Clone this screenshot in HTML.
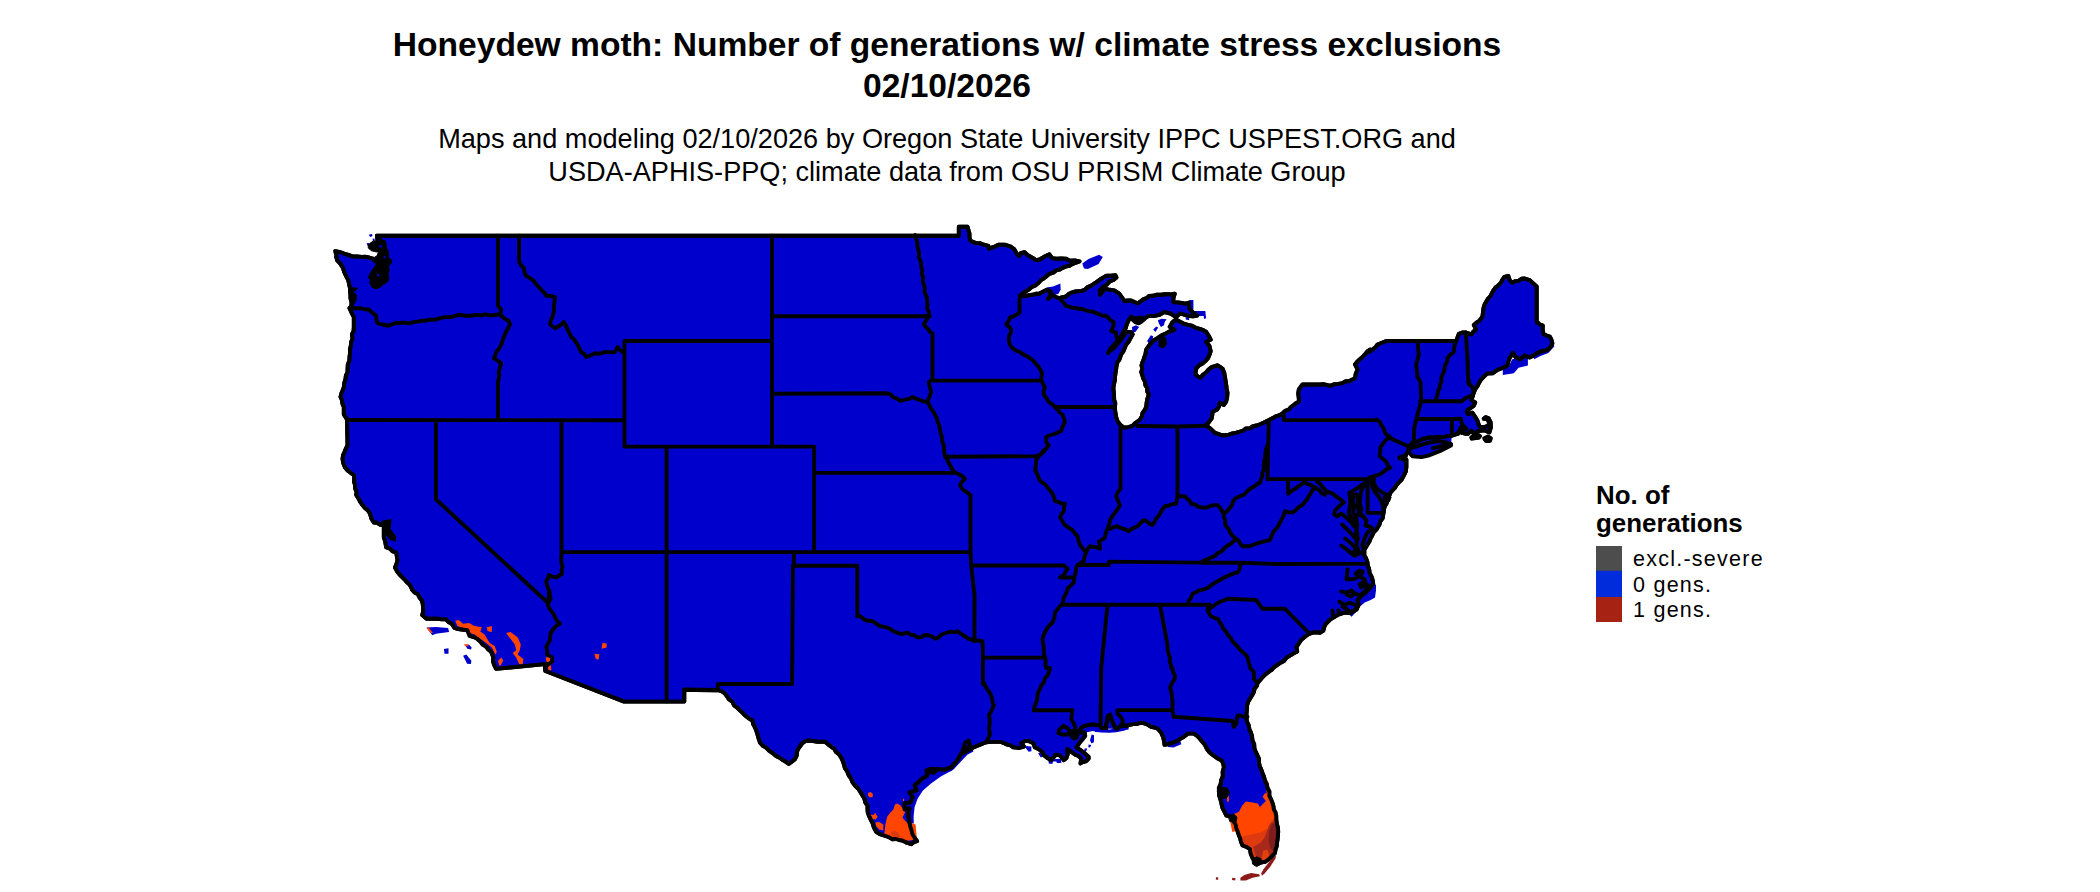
<!DOCTYPE html>
<html><head><meta charset="utf-8"><title>Honeydew moth</title>
<style>
html,body{margin:0;padding:0;background:#fff;}
body{width:2100px;height:892px;position:relative;overflow:hidden;font-family:"Liberation Sans",sans-serif;color:#000;}
.t{position:absolute;white-space:nowrap;text-align:center;}
#ti{left:347px;width:1200px;top:25.3px;font-weight:bold;font-size:33.6px;line-height:40.5px;}
#su{left:347px;width:1200px;top:122px;font-size:27.14px;line-height:33px;}
#lt{left:1596px;top:482px;font-weight:bold;font-size:25.9px;line-height:27.5px;text-align:left;}
.ll{left:1633px;font-size:21.5px;letter-spacing:1.25px;text-align:left;line-height:24px;}
</style></head><body>
<svg width="2100" height="892" viewBox="0 0 2100 892" style="position:absolute;left:0;top:0">
<g stroke-linejoin="round" stroke-linecap="round">
<path fill="#0000cd" stroke="none" d="M1082.3 263.5 L1088.5 259.0 L1099.1 254.7 L1102.8 257.0 L1098.6 264.0 L1087.9 269.1 L1084.0 268.5Z M1047.6 293.7 L1049.2 288.7 L1054.8 285.9 L1060.4 283.4 L1060.7 289.8 L1058.2 293.9 L1053.2 294.8Z M1132.0 326.9 L1136.0 325.2 L1139.1 326.9 L1135.4 332.0 L1132.3 332.6Z M1157.9 320.2 L1161.6 318.8 L1166.6 319.2 L1164.6 322.2 L1164.0 325.2 L1160.9 326.9 L1158.9 323.5Z M1153.2 329.6 L1156.2 326.6 L1158.2 327.6 L1155.5 332.0Z M1147.1 341.0 L1150.8 335.3 L1153.2 336.3 L1152.5 340.4 L1148.8 343.4Z M1189.2 300.0 L1193.4 300.0 L1193.4 309.4 L1189.2 308.1Z M1194.6 311.1 L1205.3 311.1 L1206.1 318.2 L1204.0 319.0 L1203.7 316.0 L1194.6 316.0Z M1185.5 317.2 L1189.2 317.6 L1189.2 320.2 L1185.8 319.6Z M1026.1 294.9 L1038.7 291.7 L1047.6 287.3 L1053.0 286.4 L1059.3 284.1 L1060.2 290.0 L1056.6 294.4 L1051.2 291.7 L1045.8 290.9 L1038.7 294.4 L1029.7 296.2Z M1512.2 359.2 L1527.9 356.8 L1527.9 365.5 L1518.5 367.8 L1513.8 373.3 L1502.8 374.9 L1502.8 368.6 L1509.1 365.5Z M1532.6 355.3 L1553.0 341.9 L1554.3 346.6 L1548.3 352.9 L1540.5 356.1 L1534.2 359.2Z M1095.0 726.9 L1109.6 729.4 L1128.6 726.0 L1128.6 729.4 L1109.6 732.7 L1095.0 732.0Z M1166.7 744.3 L1180.2 740.4 L1181.3 744.3 L1173.5 747.6 L1167.9 747.1Z M1105.7 728.6 L1107.1 715.7 L1110.7 713.7 L1113.8 722.4 L1116.1 728.9Z M949.3 769.3 L958.3 758.7 L965.0 752.0 L972.9 749.4 L973.4 751.4 L967.3 754.8 L960.5 762.0 L953.8 769.3 L950.4 771.8Z M369.4 234.4 L371.7 233.9 L372.6 235.6 L371.0 236.9 L369.2 236.1Z M366.7 243.3 L368.9 242.9 L369.2 245.2 L367.1 245.4Z M372.6 238.8 L374.5 238.6 L374.7 241.0 L372.8 241.0Z M334.0 255.9 L335.5 255.7 L335.5 258.2 L334.0 258.2Z M426.5 627.6 L435.9 627.0 L448.1 628.0 L449.1 631.9 L435.9 633.8 L432.3 635.2Z M443.9 649.1 L448.5 648.2 L448.5 653.7 L444.5 653.7Z M463.1 655.7 L466.3 654.6 L471.4 660.7 L470.9 664.0 L467.1 663.7Z M465.3 645.2 L468.9 644.5 L471.7 647.4 L471.0 649.5 L467.4 648.8Z M1373.2 583.3 L1376.0 584.8 L1376.0 590.4 L1375.0 597.4 L1370.7 599.9 L1364.7 602.5 L1360.6 606.0 L1355.6 612.6 L1351.6 616.8 L1349.0 614.6 L1356.6 606.5 L1360.6 597.4 L1368.7 590.4Z M1091.6 734.5 L1094.0 735.2 L1094.0 741.9 L1091.6 743.6 L1090.0 740.6Z M1088.6 744.6 L1091.3 744.9 L1090.0 747.6 L1088.3 747.3Z M1084.6 748.6 L1087.3 748.6 L1085.9 751.7 L1084.2 751.3Z M1025.4 745.9 L1031.4 746.6 L1031.4 751.3 L1028.7 751.7 L1026.0 748.6Z M1038.1 753.3 L1040.8 752.7 L1042.9 756.7 L1040.8 757.4Z M1048.2 759.4 L1061.0 758.7 L1061.4 763.1 L1057.0 762.9 L1056.3 761.4 L1052.9 761.4 L1052.6 763.8 L1048.9 763.8Z M1080.5 728.5 L1091.3 725.8 L1099.4 726.4 L1106.1 727.8 L1109.5 730.5 L1116.2 729.8 L1125.0 727.8 L1125.0 730.5 L1116.2 732.2 L1109.5 732.8 L1100.7 732.5 L1092.6 731.1 L1085.9 732.5 L1081.9 734.5Z M950.0 767.6 L950.0 771.6 L940.8 776.6 L930.7 783.7 L922.7 790.8 L917.6 798.8 L914.6 806.9 L913.6 816.5 L913.8 823.4 L906.5 823.1 L902.5 808.4 L906.5 797.3 L910.5 790.3 L916.6 780.2 L924.7 772.1 L940.8 768.6Z M1410.6 444.6 L1425.9 438.3 L1451.9 435.6 L1451.0 443.9 L1438.4 441.0 L1427.7 442.8 L1410.6 448.2Z"/>
<path fill="#0000cd" stroke="#000" stroke-width="3.9" d="M377.5 235.7 L958.8 235.7 L958.8 226.7 L967.5 226.7 L968.5 230.2 L969.5 233.6 L969.5 237.3 L970.5 240.8 L975.9 243.1 L979.6 243.1 L983.0 244.4 L988.4 245.8 L988.9 248.7 L993.8 246.9 L998.3 244.7 L1004.6 244.7 L1007.7 245.7 L1010.9 246.7 L1014.4 249.4 L1017.1 254.1 L1019.1 256.1 L1020.7 253.2 L1024.3 252.1 L1027.9 255.2 L1032.4 257.7 L1036.0 260.1 L1039.6 259.5 L1044.0 256.8 L1049.4 254.3 L1052.1 258.1 L1056.6 258.7 L1061.1 258.5 L1065.6 258.6 L1070.0 260.8 L1074.8 260.5 L1079.5 261.4 L1076.1 262.7 L1072.7 263.9 L1069.4 265.9 L1065.6 266.6 L1062.6 267.9 L1059.8 269.6 L1056.6 270.2 L1053.3 272.6 L1049.4 273.8 L1046.8 276.1 L1044.0 278.3 L1041.0 280.2 L1038.7 282.8 L1035.4 285.5 L1031.5 287.3 L1028.6 289.8 L1025.2 291.7 L1022.4 293.6 L1019.8 295.8 L1024.1 296.1 L1028.2 295.3 L1032.4 294.8 L1035.7 293.8 L1039.3 293.7 L1042.5 292.0 L1047.0 289.8 L1050.9 291.7 L1050.2 295.5 L1048.1 298.8 L1052.6 294.8 L1055.7 297.0 L1059.3 298.2 L1062.6 297.1 L1066.1 296.5 L1068.6 294.1 L1071.7 292.6 L1074.9 291.5 L1078.3 291.2 L1081.7 290.9 L1085.0 289.7 L1087.5 287.1 L1090.7 285.9 L1093.8 283.9 L1096.8 281.9 L1099.7 279.7 L1103.0 277.6 L1106.4 275.8 L1110.9 275.6 L1115.4 275.2 L1116.5 277.5 L1113.5 280.0 L1109.8 281.4 L1106.8 284.7 L1103.0 287.0 L1099.7 290.4 L1100.2 294.8 L1102.4 291.5 L1105.3 288.7 L1109.7 289.8 L1114.3 290.4 L1119.3 293.7 L1121.9 297.3 L1124.3 301.0 L1127.7 300.5 L1131.1 300.4 L1134.4 302.0 L1137.8 303.3 L1140.6 301.4 L1143.2 299.4 L1146.5 298.2 L1149.0 296.0 L1153.0 295.8 L1156.8 294.7 L1160.8 294.8 L1164.7 294.3 L1168.1 294.1 L1171.5 294.5 L1174.8 293.7 L1173.6 297.6 L1173.1 301.6 L1174.4 302.4 L1178.1 302.4 L1181.8 303.0 L1185.4 303.6 L1188.9 302.7 L1189.2 308.1 L1192.6 312.1 L1197.3 315.6 L1193.3 316.4 L1189.2 316.0 L1184.8 314.9 L1180.4 313.5 L1177.8 315.6 L1175.7 317.6 L1173.3 315.2 L1170.3 313.5 L1164.3 312.1 L1159.6 314.8 L1153.5 316.1 L1148.1 316.1 L1144.8 318.5 L1141.4 321.5 L1138.7 323.2 L1135.4 322.2 L1132.7 319.5 L1131.3 316.8 L1128.6 320.2 L1126.6 324.9 L1125.8 328.1 L1123.9 330.9 L1121.2 336.3 L1117.9 340.4 L1115.2 343.7 L1112.8 346.1 L1110.5 348.4 L1108.1 353.1 L1110.2 350.4 L1113.2 348.8 L1115.7 346.1 L1117.9 343.1 L1120.9 339.9 L1123.3 336.3 L1126.6 331.6 L1131.3 332.3 L1132.7 334.3 L1130.6 338.0 L1128.6 341.7 L1126.1 344.8 L1124.6 348.4 L1123.2 351.6 L1121.2 354.5 L1119.2 360.0 L1117.5 362.0 L1116.6 365.7 L1116.1 369.5 L1115.5 373.2 L1115.0 377.0 L1114.8 380.8 L1113.9 384.5 L1113.4 388.2 L1113.8 392.0 L1114.1 395.7 L1114.1 399.5 L1115.3 403.2 L1115.0 407.0 L1115.1 410.4 L1115.6 413.7 L1116.2 417.0 L1117.5 421.1 L1120.0 424.5 L1123.8 427.5 L1128.2 427.1 L1132.5 425.8 L1134.8 423.4 L1137.4 421.5 L1140.0 419.5 L1141.8 416.5 L1142.5 412.9 L1144.6 410.1 L1146.2 407.0 L1146.6 402.7 L1147.4 398.6 L1148.8 394.5 L1147.2 391.6 L1147.3 388.1 L1145.4 385.3 L1145.0 382.0 L1143.4 378.8 L1142.3 375.4 L1141.2 372.0 L1142.2 368.7 L1141.5 365.3 L1142.5 362.0 L1143.4 360.0 L1144.4 356.9 L1145.5 353.8 L1146.1 349.8 L1148.8 345.7 L1152.9 341.0 L1158.2 337.7 L1162.3 335.0 L1165.7 333.4 L1169.0 331.6 L1174.4 329.6 L1169.7 326.9 L1172.4 322.2 L1175.7 319.5 L1181.1 322.2 L1184.5 323.9 L1188.1 324.9 L1191.9 325.6 L1195.7 327.8 L1200.0 328.9 L1203.1 330.0 L1206.0 331.6 L1208.7 335.7 L1210.7 339.7 L1206.0 341.7 L1209.4 345.7 L1210.7 351.1 L1209.6 354.6 L1208.2 357.9 L1205.6 360.9 L1202.6 363.5 L1199.2 365.3 L1196.5 368.0 L1195.3 373.6 L1197.4 376.3 L1200.4 377.9 L1202.8 374.8 L1206.0 372.5 L1208.5 369.5 L1211.6 367.1 L1217.2 365.3 L1220.2 366.9 L1222.8 369.1 L1224.3 373.0 L1225.0 377.0 L1225.6 380.9 L1226.2 384.8 L1226.7 388.8 L1227.5 392.7 L1227.2 397.2 L1226.2 401.7 L1223.9 405.0 L1219.7 402.8 L1219.1 406.4 L1217.2 409.5 L1212.7 411.7 L1212.3 415.1 L1211.6 418.5 L1208.9 422.1 L1206.0 425.4 L1210.5 428.6 L1215.0 433.0 L1218.3 433.9 L1221.5 435.2 L1225.0 435.2 L1228.8 434.6 L1232.5 433.4 L1236.3 432.6 L1240.0 431.5 L1243.2 430.5 L1246.0 428.4 L1249.6 428.3 L1252.5 426.5 L1256.3 425.5 L1259.9 424.3 L1263.5 422.8 L1267.0 421.0 L1269.9 419.5 L1272.8 418.1 L1275.6 416.3 L1278.8 415.5 L1282.2 413.7 L1285.1 410.9 L1288.8 409.5 L1290.9 407.0 L1293.6 405.2 L1296.1 403.1 L1299.0 401.5 L1298.7 397.5 L1298.2 393.5 L1298.8 389.5 L1302.5 384.5 L1320.0 384.5 L1323.4 384.2 L1326.7 384.8 L1330.0 385.8 L1334.0 384.3 L1338.3 383.9 L1342.5 383.2 L1345.4 381.3 L1349.0 381.3 L1351.9 379.7 L1355.0 378.2 L1355.7 373.7 L1357.5 369.5 L1355.0 364.5 L1357.2 361.7 L1359.8 359.3 L1362.5 357.0 L1364.9 354.4 L1367.1 351.6 L1370.0 349.5 L1368.8 352.0 L1372.0 349.9 L1375.1 347.6 L1377.5 344.5 L1381.9 342.7 L1386.2 341.0 L1456.2 341.0 L1457.5 337.4 L1458.8 333.8 L1462.3 332.5 L1465.9 332.5 L1471.4 334.4 L1473.3 331.6 L1476.1 329.7 L1473.8 325.0 L1476.4 322.7 L1479.2 320.9 L1482.4 316.8 L1483.2 310.5 L1483.6 307.3 L1484.7 304.2 L1487.9 298.8 L1490.2 296.3 L1491.8 293.3 L1493.5 290.3 L1495.4 287.6 L1498.1 285.4 L1500.7 283.0 L1502.3 279.8 L1504.4 276.9 L1508.3 276.0 L1509.9 280.7 L1512.5 282.6 L1515.4 281.1 L1518.7 280.6 L1521.5 278.8 L1524.8 278.5 L1529.5 280.1 L1533.1 283.2 L1536.7 286.4 L1536.7 321.5 L1539.4 324.2 L1542.8 325.6 L1542.7 329.9 L1543.6 334.1 L1546.6 335.6 L1549.9 336.6 L1551.5 339.9 L1552.4 343.5 L1550.7 346.4 L1548.6 349.1 L1545.5 350.5 L1542.0 350.9 L1537.3 352.9 L1532.6 356.1 L1529.5 357.6 L1524.8 355.4 L1520.1 359.2 L1515.4 357.0 L1513.0 352.9 L1509.9 357.6 L1508.3 361.4 L1507.5 365.5 L1502.8 368.0 L1498.1 369.6 L1495.3 371.4 L1492.6 373.3 L1487.1 373.6 L1483.2 377.4 L1480.9 379.8 L1479.2 382.7 L1477.5 386.0 L1475.3 389.0 L1473.3 394.0 L1472.5 396.6 L1471.6 400.2 L1475.2 402.4 L1473.9 405.6 L1469.8 408.7 L1466.7 410.9 L1468.0 414.1 L1472.5 412.7 L1475.2 416.8 L1477.4 420.4 L1478.8 424.8 L1479.7 426.6 L1484.2 427.1 L1487.8 425.9 L1489.1 423.9 L1488.5 420.8 L1486.4 418.7 L1483.7 418.7 L1485.5 417.2 L1488.7 418.4 L1490.6 422.2 L1490.9 427.5 L1489.4 432.5 L1484.2 430.2 L1477.9 431.1 L1474.3 433.8 L1471.2 430.7 L1468.0 433.8 L1466.2 433.8 L1461.7 432.9 L1460.0 430.2 L1457.3 433.8 L1451.9 435.6 L1447.4 436.1 L1443.9 436.9 L1440.2 437.0 L1436.6 436.9 L1433.0 437.8 L1429.4 437.3 L1425.9 438.3 L1422.7 439.0 L1419.7 440.3 L1416.9 441.9 L1413.6 442.8 L1410.6 444.6 L1408.9 447.5 L1408.2 450.8 L1406.5 453.7 L1405.3 456.8 L1403.7 459.7 L1399.3 457.9 L1403.7 456.1 L1406.4 459.7 L1406.4 466.9 L1405.8 471.6 L1403.7 475.9 L1401.9 479.3 L1399.2 482.1 L1396.6 484.8 L1395.1 487.7 L1392.7 490.1 L1390.6 492.5 L1389.4 495.6 L1387.6 500.1 L1386.7 503.2 L1385.0 506.0 L1383.9 509.1 L1383.6 512.4 L1382.6 518.4 L1380.4 521.2 L1379.5 524.5 L1376.5 529.5 L1373.5 532.6 L1372.1 535.7 L1370.5 538.6 L1369.3 541.8 L1367.4 544.7 L1364.4 549.7 L1364.3 554.8 L1366.1 558.4 L1367.4 561.9 L1367.9 565.5 L1369.2 569.3 L1369.7 573.2 L1371.6 576.6 L1372.7 580.3 L1373.2 583.8 L1370.7 587.3 L1367.7 590.4 L1364.7 593.4 L1360.6 596.4 L1357.6 600.5 L1358.6 604.5 L1356.6 609.5 L1353.5 611.1 L1350.5 613.1 L1344.5 612.6 L1338.4 614.6 L1333.4 617.6 L1330.5 619.2 L1328.3 621.6 L1325.9 623.8 L1324.3 626.7 L1323.3 630.7 L1320.3 632.7 L1314.2 632.2 L1309.2 633.8 L1305.1 636.8 L1301.1 640.0 L1300.4 641.2 L1298.4 644.1 L1296.5 647.0 L1297.2 651.6 L1293.3 653.6 L1289.6 655.9 L1286.4 657.8 L1284.0 661.0 L1280.7 662.7 L1277.5 664.9 L1274.3 667.0 L1271.7 669.9 L1268.5 672.0 L1265.5 674.4 L1262.7 677.1 L1260.3 680.0 L1257.7 682.8 L1256.8 686.1 L1254.6 688.7 L1253.9 692.1 L1252.3 695.0 L1250.2 698.4 L1248.1 701.9 L1247.0 705.8 L1246.9 709.4 L1246.6 713.0 L1246.3 716.5 L1246.9 721.2 L1248.8 725.5 L1249.4 729.3 L1251.1 732.9 L1252.1 736.6 L1252.5 740.5 L1254.2 744.1 L1254.4 748.2 L1255.8 751.9 L1257.5 755.5 L1259.0 758.9 L1259.0 762.6 L1259.8 766.2 L1261.3 769.6 L1262.5 773.0 L1264.0 776.7 L1264.9 780.5 L1266.8 784.1 L1267.5 788.0 L1269.4 791.5 L1269.3 795.7 L1271.0 799.3 L1272.5 803.0 L1273.4 806.1 L1273.8 809.4 L1275.4 812.3 L1276.2 815.5 L1276.3 819.7 L1276.9 823.9 L1278.0 828.0 L1278.2 831.8 L1277.9 835.5 L1277.6 839.3 L1277.0 843.0 L1276.7 846.4 L1275.5 849.6 L1275.0 853.0 L1271.2 856.8 L1268.4 859.5 L1265.0 861.8 L1260.6 862.5 L1256.2 863.0 L1252.5 858.0 L1250.7 853.8 L1250.0 849.2 L1246.5 846.8 L1242.5 845.5 L1241.0 841.8 L1240.0 838.0 L1238.7 834.7 L1237.6 831.3 L1236.2 828.0 L1235.6 824.5 L1233.6 821.4 L1232.5 818.0 L1229.6 816.2 L1226.2 815.5 L1224.4 811.7 L1222.5 808.0 L1221.7 804.7 L1220.9 801.3 L1220.0 798.0 L1218.9 794.8 L1219.1 791.3 L1218.8 788.0 L1220.6 784.1 L1221.2 780.0 L1222.8 776.2 L1222.6 771.7 L1223.9 767.3 L1223.2 763.8 L1221.7 760.5 L1217.2 758.3 L1212.7 754.9 L1209.6 752.5 L1207.1 749.3 L1204.9 744.8 L1202.0 741.5 L1199.3 738.1 L1196.7 735.6 L1193.7 733.6 L1188.0 733.6 L1183.6 737.0 L1180.7 738.6 L1178.0 740.4 L1174.7 742.0 L1171.2 743.2 L1167.9 744.0 L1164.5 744.8 L1164.0 741.5 L1163.4 738.1 L1161.1 732.5 L1156.7 728.0 L1151.1 726.9 L1146.6 724.1 L1143.3 723.1 L1139.8 723.0 L1136.6 724.1 L1133.1 724.1 L1129.7 724.9 L1126.4 725.8 L1121.0 725.6 L1117.4 728.6 L1115.2 728.0 L1112.9 722.4 L1111.2 718.6 L1110.1 714.6 L1107.3 716.8 L1107.3 720.6 L1106.2 724.2 L1106.2 728.0 L1101.7 728.0 L1099.4 725.1 L1095.3 724.7 L1091.3 724.4 L1088.1 725.2 L1084.9 725.8 L1081.9 727.1 L1079.2 730.5 L1081.2 732.5 L1084.6 732.5 L1085.2 735.9 L1082.6 739.2 L1079.2 743.3 L1076.5 747.3 L1080.5 750.0 L1084.6 753.3 L1088.6 756.7 L1088.6 758.7 L1085.9 761.4 L1082.6 762.1 L1080.5 763.4 L1081.2 758.7 L1078.5 756.0 L1075.2 754.7 L1072.5 752.7 L1069.8 750.7 L1067.1 749.3 L1067.8 754.0 L1066.4 758.1 L1063.7 760.1 L1062.4 758.1 L1059.7 755.4 L1055.6 754.7 L1054.3 756.7 L1050.9 760.1 L1047.6 758.1 L1044.2 755.4 L1042.2 752.0 L1038.8 749.3 L1034.8 747.3 L1033.4 743.3 L1029.4 741.2 L1025.4 740.9 L1021.3 743.3 L1024.0 746.6 L1019.3 748.0 L1013.3 747.3 L1010.5 745.4 L1007.2 744.6 L1004.1 743.3 L1001.1 741.9 L991.7 741.9 L988.3 742.1 L985.0 742.6 L983.0 743.5 L979.6 744.9 L976.2 746.3 L972.9 747.8 L969.5 749.4 L965.0 752.0 L961.1 753.6 L958.3 758.7 L956.1 762.0 L953.6 764.4 L951.6 767.1 L948.2 768.4 L944.8 769.6 L940.9 769.4 L937.0 769.3 L933.6 772.7 L928.0 771.6 L926.9 776.1 L922.4 778.3 L917.9 782.8 L914.6 785.0 L916.6 790.3 L913.1 791.3 L909.5 792.3 L912.6 797.3 L910.5 802.4 L904.5 803.4 L904.5 809.4 L909.5 808.4 L908.4 812.4 L908.5 816.5 L909.5 822.6 L910.3 826.7 L911.6 830.6 L912.5 834.4 L914.6 837.7 L917.1 841.2 L913.9 842.2 L911.2 844.2 L906.7 842.7 L902.5 840.5 L899.2 840.0 L895.9 839.0 L892.5 839.2 L888.3 836.9 L883.8 835.5 L879.8 834.1 L876.2 831.8 L873.9 827.6 L872.5 823.0 L870.5 819.3 L868.8 815.5 L867.7 812.2 L867.5 808.9 L867.5 805.5 L865.3 802.5 L864.4 798.7 L862.5 795.5 L860.3 791.9 L858.0 788.5 L855.0 785.5 L852.5 782.4 L851.1 778.7 L848.8 775.5 L847.3 771.7 L844.9 768.2 L843.8 764.2 L842.6 760.7 L841.0 757.3 L838.8 754.2 L836.0 752.0 L834.2 748.8 L831.2 746.8 L828.0 744.4 L825.0 741.8 L817.5 741.8 L813.1 741.1 L808.8 740.5 L805.4 741.1 L802.5 743.0 L798.8 748.0 L797.0 751.6 L796.7 755.7 L795.0 759.2 L791.9 761.6 L788.8 763.8 L785.8 761.8 L782.8 760.1 L780.0 758.0 L776.0 755.9 L772.5 753.0 L769.0 750.7 L766.0 747.7 L762.5 745.5 L760.0 742.7 L758.8 739.2 L757.6 734.9 L756.2 730.5 L754.9 727.2 L753.1 724.1 L752.5 720.5 L748.6 718.2 L745.0 715.5 L742.6 712.9 L740.0 710.5 L737.5 708.0 L734.1 705.5 L732.2 701.7 L728.8 699.2 L727.0 696.5 L725.1 693.8 L722.5 691.8 L718.0 690.0 L684.3 689.7 L684.3 701.6 L624.1 701.6 L545.3 671.0 L544.9 667.5 L547.8 663.9 L496.1 668.9 L494.0 664.6 L493.0 661.1 L493.3 657.4 L491.1 651.7 L488.3 649.4 L486.1 646.7 L482.8 644.7 L480.3 641.6 L477.7 639.2 L474.6 637.3 L469.6 635.9 L467.4 630.2 L461.7 629.5 L458.0 629.1 L454.5 628.0 L451.6 623.7 L448.4 622.0 L445.9 619.4 L441.6 619.2 L437.3 618.7 L426.5 618.7 L422.2 615.1 L423.2 611.2 L423.0 607.2 L422.7 603.5 L421.5 600.0 L419.4 597.4 L417.9 594.3 L414.7 592.6 L412.2 590.0 L411.2 587.5 L409.5 584.6 L407.0 582.4 L404.9 579.8 L402.5 577.5 L399.5 574.5 L397.0 571.2 L395.0 567.5 L396.5 563.8 L397.5 560.0 L396.8 556.3 L396.2 552.5 L392.6 551.4 L389.9 548.6 L386.2 547.5 L385.6 544.1 L385.0 540.7 L383.8 537.5 L383.8 525.0 L380.3 524.8 L377.2 522.8 L373.8 522.5 L371.3 518.4 L370.0 513.8 L367.9 510.5 L364.9 508.0 L362.5 505.0 L360.2 501.8 L358.4 498.3 L356.2 495.0 L356.5 491.6 L355.1 488.4 L355.0 485.0 L354.0 481.7 L354.2 478.3 L353.8 475.0 L350.6 472.8 L347.5 470.4 L345.0 467.5 L343.3 463.3 L342.5 458.8 L343.1 455.1 L344.6 451.7 L346.0 448.3 L347.5 445.0 L347.0 419.5 L343.8 414.5 L343.8 407.0 L342.4 403.8 L342.0 400.2 L340.5 397.0 L341.3 393.6 L342.7 390.3 L343.8 387.0 L344.2 383.1 L345.4 379.4 L345.9 375.6 L347.5 372.0 L347.6 368.2 L347.8 364.4 L349.3 360.8 L349.5 357.0 L350.0 353.3 L349.9 349.4 L350.8 345.7 L351.2 342.0 L352.5 338.4 L351.9 334.4 L353.6 330.8 L353.8 327.0 L353.8 317.0 L352.2 314.1 L350.9 311.2 L349.5 308.2 L351.3 305.9 L351.5 302.2 L350.5 298.5 L350.4 294.8 L350.0 291.0 L349.9 287.8 L349.2 284.6 L348.2 280.1 L346.0 276.1 L344.2 271.9 L342.8 267.6 L340.2 263.6 L336.9 260.1 L336.4 255.6 L335.3 251.1 L340.6 252.2 L344.5 253.8 L348.5 254.9 L352.4 256.4 L357.2 256.5 L361.9 256.9 L365.6 256.8 L369.1 257.5 L372.6 258.5 L377.9 261.7 L381.5 260.3 L385.4 260.1 L386.5 256.5 L387.0 252.7 L385.4 249.3 L384.0 245.8 L383.2 242.0 L377.4 239.9 L376.9 235.6Z"/>
<path fill="#0000cd" stroke="#000" stroke-width="3.9" d="M1407.9 451.7 L1410.6 448.2 L1416.9 446.4 L1427.7 442.8 L1438.4 441.0 L1443.8 441.9 L1451.0 443.9 L1451.0 445.5 L1440.2 450.9 L1429.5 455.3 L1421.4 457.1 L1412.4 456.2Z"/>
<path fill="#ff4500" stroke="none" d="M1231.6 815.1 L1239.0 811.7 L1241.7 806.3 L1245.8 801.6 L1251.1 802.3 L1257.9 803.6 L1259.9 807.0 L1263.3 803.6 L1265.9 801.0 L1262.6 796.9 L1264.6 793.6 L1267.3 792.9 L1269.3 796.9 L1273.4 807.7 L1277.4 818.5 L1278.7 827.9 L1278.1 840.0 L1276.0 849.4 L1271.3 858.8 L1263.3 862.9 L1256.5 864.2 L1253.2 857.5 L1249.8 849.4 L1241.7 843.4 L1239.7 835.9 L1235.7 827.9 L1233.0 821.1Z"/>
<path fill="#ff4500" stroke="none" d="M1265.9 780.8 L1268.1 780.8 L1269.4 794.2 L1266.6 794.2Z"/>
<path fill="#ff4500" stroke="none" d="M1230.3 822.5 L1233.0 821.8 L1235.3 831.2 L1232.3 831.9Z"/>
<path fill="#ff4500" stroke="none" d="M1226.9 796.2 L1228.9 796.2 L1228.9 801.6 L1226.9 801.6Z"/>
<path fill="#dd3a10" stroke="none" d="M1240.4 837.3 L1251.1 834.6 L1260.6 832.6 L1267.3 828.5 L1271.3 821.1 L1275.4 816.4 L1278.1 823.8 L1278.1 840.0 L1276.0 849.4 L1271.3 858.8 L1263.3 862.9 L1256.5 864.2 L1253.2 857.5 L1249.8 849.4 L1241.7 843.4Z"/>
<path fill="#a8281c" stroke="none" d="M1253.2 846.7 L1260.6 842.7 L1264.6 837.3 L1267.3 830.6 L1270.0 823.8 L1274.7 820.5 L1278.1 827.9 L1277.8 842.7 L1274.7 852.1 L1270.0 857.5 L1267.3 850.8 L1264.6 856.1 L1259.2 861.5 L1255.9 856.1Z"/>
<path fill="#7f1d1d" stroke="none" d="M1269.3 830.6 L1272.0 823.8 L1275.4 823.2 L1277.4 830.6 L1277.0 844.0 L1273.4 850.8 L1270.0 848.1 L1268.6 840.0Z"/>
<path fill="#e2410c" stroke="none" d="M1263.3 850.8 L1267.3 849.4 L1270.0 857.5 L1264.6 862.2 L1260.6 862.2Z"/>
<path fill="#8b1a1a" stroke="none" d="M1240.4 877.7 L1244.4 875.0 L1251.1 873.0 L1259.2 874.3 L1259.9 876.3 L1252.5 877.7 L1245.8 880.4 L1240.4 880.6Z"/>
<path fill="#8b1a1a" stroke="none" d="M1261.2 873.6 L1263.3 869.6 L1267.3 864.2 L1272.7 857.5 L1276.0 855.5 L1275.4 858.8 L1270.0 866.9 L1264.6 873.6 L1261.9 875.7Z"/>
<path fill="#8b1a1a" stroke="none" d="M1232.3 877.7 L1235.7 878.3 L1235.0 880.6 L1232.0 880.1Z"/>
<path fill="#8b1a1a" stroke="none" d="M1215.9 877.3 L1218.2 877.3 L1218.2 879.7 L1215.9 879.7Z"/>
<path fill="#ff4500" stroke="none" d="M884.8 830.6 L885.3 824.6 L887.3 816.5 L890.4 812.5 L893.4 809.4 L894.9 804.4 L897.4 803.4 L900.5 805.4 L903.0 808.4 L905.0 812.5 L902.5 817.5 L905.0 820.5 L908.5 824.6 L910.5 830.6 L913.6 839.7 L908.5 840.7 L902.5 839.7 L895.4 838.7 L890.4 836.7 L884.3 833.7Z"/>
<path fill="#dd3a10" stroke="none" d="M890.4 832.7 L894.4 830.6 L898.4 832.7 L900.5 836.7 L897.4 838.7 L893.4 837.7Z"/>
<path fill="#ff4500" stroke="none" d="M868.2 792.8 L870.7 792.1 L873.0 794.3 L872.4 797.1 L869.7 797.5 L868.0 795.3Z"/>
<path fill="#ff4500" stroke="none" d="M870.7 814.5 L873.7 815.0 L875.2 812.5 L876.2 815.0 L877.7 816.5 L875.7 819.5 L872.7 819.0Z"/>
<path fill="#ff4500" stroke="none" d="M875.2 822.6 L879.3 822.1 L883.3 824.6 L883.3 830.6 L879.3 829.6 L876.4 826.6Z"/>
<path fill="#ff4500" stroke="none" d="M902.9 798.8 L904.1 798.8 L904.1 801.1 L902.9 801.1Z"/>
<path fill="#ff4500" stroke="none" d="M911.8 823.1 L915.6 824.6 L916.8 837.7 L914.6 838.2 L911.4 830.6Z"/>
<path fill="#ff4500" stroke="none" d="M455.2 620.8 L458.8 620.1 L463.1 623.7 L468.9 623.0 L474.6 625.9 L481.8 627.3 L480.3 631.6 L484.6 634.5 L489.7 643.1 L494.7 646.0 L496.8 651.7 L495.4 654.6 L491.8 647.4 L486.1 643.1 L480.3 638.8 L474.6 634.5 L469.6 633.0 L467.4 628.7 L461.7 627.6 L457.4 625.9Z"/>
<path fill="#ff4500" stroke="none" d="M486.8 627.3 L491.8 625.9 L491.8 632.3 L487.5 630.9Z"/>
<path fill="#ff4500" stroke="none" d="M506.2 633.0 L510.5 631.9 L517.6 637.3 L520.8 644.5 L519.8 650.3 L517.6 654.6 L523.4 658.9 L522.7 664.6 L519.1 663.9 L516.2 657.4 L512.6 653.1 L516.2 650.3 L514.8 644.5 L510.5 638.8Z"/>
<path fill="#ff4500" stroke="none" d="M545.6 657.4 L549.9 656.7 L551.4 670.3 L548.5 670.3Z"/>
<path fill="#ff4500" stroke="none" d="M594.4 653.8 L599.4 654.3 L598.7 659.6 L595.8 658.9Z"/>
<path fill="#ff4500" stroke="none" d="M602.3 643.1 L606.6 643.4 L606.6 647.4 L601.6 648.8Z"/>
<path fill="#ff4500" stroke="none" d="M426.5 628.0 L428.7 627.6 L433.0 633.0 L430.8 633.0Z"/>
<path fill="#ff4500" stroke="none" d="M463.8 644.5 L467.4 643.9 L468.9 646.2 L465.3 646.2Z"/>
<path fill="#ff4500" stroke="none" d="M498.0 661.0 L501.1 657.4 L503.3 660.3 L500.4 666.0 L499.0 664.6Z"/>
<path fill="none" stroke="#000" stroke-width="3.9" d="M377.5 235.7 L958.8 235.7 L958.8 226.7 L967.5 226.7 L968.5 230.2 L969.5 233.6 L969.5 237.3 L970.5 240.8 L975.9 243.1 L979.6 243.1 L983.0 244.4 L988.4 245.8 L988.9 248.7 L993.8 246.9 L998.3 244.7 L1004.6 244.7 L1007.7 245.7 L1010.9 246.7 L1014.4 249.4 L1017.1 254.1 L1019.1 256.1 L1020.7 253.2 L1024.3 252.1 L1027.9 255.2 L1032.4 257.7 L1036.0 260.1 L1039.6 259.5 L1044.0 256.8 L1049.4 254.3 L1052.1 258.1 L1056.6 258.7 L1061.1 258.5 L1065.6 258.6 L1070.0 260.8 L1074.8 260.5 L1079.5 261.4 L1076.1 262.7 L1072.7 263.9 L1069.4 265.9 L1065.6 266.6 L1062.6 267.9 L1059.8 269.6 L1056.6 270.2 L1053.3 272.6 L1049.4 273.8 L1046.8 276.1 L1044.0 278.3 L1041.0 280.2 L1038.7 282.8 L1035.4 285.5 L1031.5 287.3 L1028.6 289.8 L1025.2 291.7 L1022.4 293.6 L1019.8 295.8 L1024.1 296.1 L1028.2 295.3 L1032.4 294.8 L1035.7 293.8 L1039.3 293.7 L1042.5 292.0 L1047.0 289.8 L1050.9 291.7 L1050.2 295.5 L1048.1 298.8 L1052.6 294.8 L1055.7 297.0 L1059.3 298.2 L1062.6 297.1 L1066.1 296.5 L1068.6 294.1 L1071.7 292.6 L1074.9 291.5 L1078.3 291.2 L1081.7 290.9 L1085.0 289.7 L1087.5 287.1 L1090.7 285.9 L1093.8 283.9 L1096.8 281.9 L1099.7 279.7 L1103.0 277.6 L1106.4 275.8 L1110.9 275.6 L1115.4 275.2 L1116.5 277.5 L1113.5 280.0 L1109.8 281.4 L1106.8 284.7 L1103.0 287.0 L1099.7 290.4 L1100.2 294.8 L1102.4 291.5 L1105.3 288.7 L1109.7 289.8 L1114.3 290.4 L1119.3 293.7 L1121.9 297.3 L1124.3 301.0 L1127.7 300.5 L1131.1 300.4 L1134.4 302.0 L1137.8 303.3 L1140.6 301.4 L1143.2 299.4 L1146.5 298.2 L1149.0 296.0 L1153.0 295.8 L1156.8 294.7 L1160.8 294.8 L1164.7 294.3 L1168.1 294.1 L1171.5 294.5 L1174.8 293.7 L1173.6 297.6 L1173.1 301.6 L1174.4 302.4 L1178.1 302.4 L1181.8 303.0 L1185.4 303.6 L1188.9 302.7 L1189.2 308.1 L1192.6 312.1 L1197.3 315.6 L1193.3 316.4 L1189.2 316.0 L1184.8 314.9 L1180.4 313.5 L1177.8 315.6 L1175.7 317.6 L1173.3 315.2 L1170.3 313.5 L1164.3 312.1 L1159.6 314.8 L1153.5 316.1 L1148.1 316.1 L1144.8 318.5 L1141.4 321.5 L1138.7 323.2 L1135.4 322.2 L1132.7 319.5 L1131.3 316.8 L1128.6 320.2 L1126.6 324.9 L1125.8 328.1 L1123.9 330.9 L1121.2 336.3 L1117.9 340.4 L1115.2 343.7 L1112.8 346.1 L1110.5 348.4 L1108.1 353.1 L1110.2 350.4 L1113.2 348.8 L1115.7 346.1 L1117.9 343.1 L1120.9 339.9 L1123.3 336.3 L1126.6 331.6 L1131.3 332.3 L1132.7 334.3 L1130.6 338.0 L1128.6 341.7 L1126.1 344.8 L1124.6 348.4 L1123.2 351.6 L1121.2 354.5 L1119.2 360.0 L1117.5 362.0 L1116.6 365.7 L1116.1 369.5 L1115.5 373.2 L1115.0 377.0 L1114.8 380.8 L1113.9 384.5 L1113.4 388.2 L1113.8 392.0 L1114.1 395.7 L1114.1 399.5 L1115.3 403.2 L1115.0 407.0 L1115.1 410.4 L1115.6 413.7 L1116.2 417.0 L1117.5 421.1 L1120.0 424.5 L1123.8 427.5 L1128.2 427.1 L1132.5 425.8 L1134.8 423.4 L1137.4 421.5 L1140.0 419.5 L1141.8 416.5 L1142.5 412.9 L1144.6 410.1 L1146.2 407.0 L1146.6 402.7 L1147.4 398.6 L1148.8 394.5 L1147.2 391.6 L1147.3 388.1 L1145.4 385.3 L1145.0 382.0 L1143.4 378.8 L1142.3 375.4 L1141.2 372.0 L1142.2 368.7 L1141.5 365.3 L1142.5 362.0 L1143.4 360.0 L1144.4 356.9 L1145.5 353.8 L1146.1 349.8 L1148.8 345.7 L1152.9 341.0 L1158.2 337.7 L1162.3 335.0 L1165.7 333.4 L1169.0 331.6 L1174.4 329.6 L1169.7 326.9 L1172.4 322.2 L1175.7 319.5 L1181.1 322.2 L1184.5 323.9 L1188.1 324.9 L1191.9 325.6 L1195.7 327.8 L1200.0 328.9 L1203.1 330.0 L1206.0 331.6 L1208.7 335.7 L1210.7 339.7 L1206.0 341.7 L1209.4 345.7 L1210.7 351.1 L1209.6 354.6 L1208.2 357.9 L1205.6 360.9 L1202.6 363.5 L1199.2 365.3 L1196.5 368.0 L1195.3 373.6 L1197.4 376.3 L1200.4 377.9 L1202.8 374.8 L1206.0 372.5 L1208.5 369.5 L1211.6 367.1 L1217.2 365.3 L1220.2 366.9 L1222.8 369.1 L1224.3 373.0 L1225.0 377.0 L1225.6 380.9 L1226.2 384.8 L1226.7 388.8 L1227.5 392.7 L1227.2 397.2 L1226.2 401.7 L1223.9 405.0 L1219.7 402.8 L1219.1 406.4 L1217.2 409.5 L1212.7 411.7 L1212.3 415.1 L1211.6 418.5 L1208.9 422.1 L1206.0 425.4 L1210.5 428.6 L1215.0 433.0 L1218.3 433.9 L1221.5 435.2 L1225.0 435.2 L1228.8 434.6 L1232.5 433.4 L1236.3 432.6 L1240.0 431.5 L1243.2 430.5 L1246.0 428.4 L1249.6 428.3 L1252.5 426.5 L1256.3 425.5 L1259.9 424.3 L1263.5 422.8 L1267.0 421.0 L1269.9 419.5 L1272.8 418.1 L1275.6 416.3 L1278.8 415.5 L1282.2 413.7 L1285.1 410.9 L1288.8 409.5 L1290.9 407.0 L1293.6 405.2 L1296.1 403.1 L1299.0 401.5 L1298.7 397.5 L1298.2 393.5 L1298.8 389.5 L1302.5 384.5 L1320.0 384.5 L1323.4 384.2 L1326.7 384.8 L1330.0 385.8 L1334.0 384.3 L1338.3 383.9 L1342.5 383.2 L1345.4 381.3 L1349.0 381.3 L1351.9 379.7 L1355.0 378.2 L1355.7 373.7 L1357.5 369.5 L1355.0 364.5 L1357.2 361.7 L1359.8 359.3 L1362.5 357.0 L1364.9 354.4 L1367.1 351.6 L1370.0 349.5 L1368.8 352.0 L1372.0 349.9 L1375.1 347.6 L1377.5 344.5 L1381.9 342.7 L1386.2 341.0 L1456.2 341.0 L1457.5 337.4 L1458.8 333.8 L1462.3 332.5 L1465.9 332.5 L1471.4 334.4 L1473.3 331.6 L1476.1 329.7 L1473.8 325.0 L1476.4 322.7 L1479.2 320.9 L1482.4 316.8 L1483.2 310.5 L1483.6 307.3 L1484.7 304.2 L1487.9 298.8 L1490.2 296.3 L1491.8 293.3 L1493.5 290.3 L1495.4 287.6 L1498.1 285.4 L1500.7 283.0 L1502.3 279.8 L1504.4 276.9 L1508.3 276.0 L1509.9 280.7 L1512.5 282.6 L1515.4 281.1 L1518.7 280.6 L1521.5 278.8 L1524.8 278.5 L1529.5 280.1 L1533.1 283.2 L1536.7 286.4 L1536.7 321.5 L1539.4 324.2 L1542.8 325.6 L1542.7 329.9 L1543.6 334.1 L1546.6 335.6 L1549.9 336.6 L1551.5 339.9 L1552.4 343.5 L1550.7 346.4 L1548.6 349.1 L1545.5 350.5 L1542.0 350.9 L1537.3 352.9 L1532.6 356.1 L1529.5 357.6 L1524.8 355.4 L1520.1 359.2 L1515.4 357.0 L1513.0 352.9 L1509.9 357.6 L1508.3 361.4 L1507.5 365.5 L1502.8 368.0 L1498.1 369.6 L1495.3 371.4 L1492.6 373.3 L1487.1 373.6 L1483.2 377.4 L1480.9 379.8 L1479.2 382.7 L1477.5 386.0 L1475.3 389.0 L1473.3 394.0 L1472.5 396.6 L1471.6 400.2 L1475.2 402.4 L1473.9 405.6 L1469.8 408.7 L1466.7 410.9 L1468.0 414.1 L1472.5 412.7 L1475.2 416.8 L1477.4 420.4 L1478.8 424.8 L1479.7 426.6 L1484.2 427.1 L1487.8 425.9 L1489.1 423.9 L1488.5 420.8 L1486.4 418.7 L1483.7 418.7 L1485.5 417.2 L1488.7 418.4 L1490.6 422.2 L1490.9 427.5 L1489.4 432.5 L1484.2 430.2 L1477.9 431.1 L1474.3 433.8 L1471.2 430.7 L1468.0 433.8 L1466.2 433.8 L1461.7 432.9 L1460.0 430.2 L1457.3 433.8 L1451.9 435.6 L1447.4 436.1 L1443.9 436.9 L1440.2 437.0 L1436.6 436.9 L1433.0 437.8 L1429.4 437.3 L1425.9 438.3 L1422.7 439.0 L1419.7 440.3 L1416.9 441.9 L1413.6 442.8 L1410.6 444.6 L1408.9 447.5 L1408.2 450.8 L1406.5 453.7 L1405.3 456.8 L1403.7 459.7 L1399.3 457.9 L1403.7 456.1 L1406.4 459.7 L1406.4 466.9 L1405.8 471.6 L1403.7 475.9 L1401.9 479.3 L1399.2 482.1 L1396.6 484.8 L1395.1 487.7 L1392.7 490.1 L1390.6 492.5 L1389.4 495.6 L1387.6 500.1 L1386.7 503.2 L1385.0 506.0 L1383.9 509.1 L1383.6 512.4 L1382.6 518.4 L1380.4 521.2 L1379.5 524.5 L1376.5 529.5 L1373.5 532.6 L1372.1 535.7 L1370.5 538.6 L1369.3 541.8 L1367.4 544.7 L1364.4 549.7 L1364.3 554.8 L1366.1 558.4 L1367.4 561.9 L1367.9 565.5 L1369.2 569.3 L1369.7 573.2 L1371.6 576.6 L1372.7 580.3 L1373.2 583.8 L1370.7 587.3 L1367.7 590.4 L1364.7 593.4 L1360.6 596.4 L1357.6 600.5 L1358.6 604.5 L1356.6 609.5 L1353.5 611.1 L1350.5 613.1 L1344.5 612.6 L1338.4 614.6 L1333.4 617.6 L1330.5 619.2 L1328.3 621.6 L1325.9 623.8 L1324.3 626.7 L1323.3 630.7 L1320.3 632.7 L1314.2 632.2 L1309.2 633.8 L1305.1 636.8 L1301.1 640.0 L1300.4 641.2 L1298.4 644.1 L1296.5 647.0 L1297.2 651.6 L1293.3 653.6 L1289.6 655.9 L1286.4 657.8 L1284.0 661.0 L1280.7 662.7 L1277.5 664.9 L1274.3 667.0 L1271.7 669.9 L1268.5 672.0 L1265.5 674.4 L1262.7 677.1 L1260.3 680.0 L1257.7 682.8 L1256.8 686.1 L1254.6 688.7 L1253.9 692.1 L1252.3 695.0 L1250.2 698.4 L1248.1 701.9 L1247.0 705.8 L1246.9 709.4 L1246.6 713.0 L1246.3 716.5 L1246.9 721.2 L1248.8 725.5 L1249.4 729.3 L1251.1 732.9 L1252.1 736.6 L1252.5 740.5 L1254.2 744.1 L1254.4 748.2 L1255.8 751.9 L1257.5 755.5 L1259.0 758.9 L1259.0 762.6 L1259.8 766.2 L1261.3 769.6 L1262.5 773.0 L1264.0 776.7 L1264.9 780.5 L1266.8 784.1 L1267.5 788.0 L1269.4 791.5 L1269.3 795.7 L1271.0 799.3 L1272.5 803.0 L1273.4 806.1 L1273.8 809.4 L1275.4 812.3 L1276.2 815.5 L1276.3 819.7 L1276.9 823.9 L1278.0 828.0 L1278.2 831.8 L1277.9 835.5 L1277.6 839.3 L1277.0 843.0 L1276.7 846.4 L1275.5 849.6 L1275.0 853.0 L1271.2 856.8 L1268.4 859.5 L1265.0 861.8 L1260.6 862.5 L1256.2 863.0 L1252.5 858.0 L1250.7 853.8 L1250.0 849.2 L1246.5 846.8 L1242.5 845.5 L1241.0 841.8 L1240.0 838.0 L1238.7 834.7 L1237.6 831.3 L1236.2 828.0 L1235.6 824.5 L1233.6 821.4 L1232.5 818.0 L1229.6 816.2 L1226.2 815.5 L1224.4 811.7 L1222.5 808.0 L1221.7 804.7 L1220.9 801.3 L1220.0 798.0 L1218.9 794.8 L1219.1 791.3 L1218.8 788.0 L1220.6 784.1 L1221.2 780.0 L1222.8 776.2 L1222.6 771.7 L1223.9 767.3 L1223.2 763.8 L1221.7 760.5 L1217.2 758.3 L1212.7 754.9 L1209.6 752.5 L1207.1 749.3 L1204.9 744.8 L1202.0 741.5 L1199.3 738.1 L1196.7 735.6 L1193.7 733.6 L1188.0 733.6 L1183.6 737.0 L1180.7 738.6 L1178.0 740.4 L1174.7 742.0 L1171.2 743.2 L1167.9 744.0 L1164.5 744.8 L1164.0 741.5 L1163.4 738.1 L1161.1 732.5 L1156.7 728.0 L1151.1 726.9 L1146.6 724.1 L1143.3 723.1 L1139.8 723.0 L1136.6 724.1 L1133.1 724.1 L1129.7 724.9 L1126.4 725.8 L1121.0 725.6 L1117.4 728.6 L1115.2 728.0 L1112.9 722.4 L1111.2 718.6 L1110.1 714.6 L1107.3 716.8 L1107.3 720.6 L1106.2 724.2 L1106.2 728.0 L1101.7 728.0 L1099.4 725.1 L1095.3 724.7 L1091.3 724.4 L1088.1 725.2 L1084.9 725.8 L1081.9 727.1 L1079.2 730.5 L1081.2 732.5 L1084.6 732.5 L1085.2 735.9 L1082.6 739.2 L1079.2 743.3 L1076.5 747.3 L1080.5 750.0 L1084.6 753.3 L1088.6 756.7 L1088.6 758.7 L1085.9 761.4 L1082.6 762.1 L1080.5 763.4 L1081.2 758.7 L1078.5 756.0 L1075.2 754.7 L1072.5 752.7 L1069.8 750.7 L1067.1 749.3 L1067.8 754.0 L1066.4 758.1 L1063.7 760.1 L1062.4 758.1 L1059.7 755.4 L1055.6 754.7 L1054.3 756.7 L1050.9 760.1 L1047.6 758.1 L1044.2 755.4 L1042.2 752.0 L1038.8 749.3 L1034.8 747.3 L1033.4 743.3 L1029.4 741.2 L1025.4 740.9 L1021.3 743.3 L1024.0 746.6 L1019.3 748.0 L1013.3 747.3 L1010.5 745.4 L1007.2 744.6 L1004.1 743.3 L1001.1 741.9 L991.7 741.9 L988.3 742.1 L985.0 742.6 L983.0 743.5 L979.6 744.9 L976.2 746.3 L972.9 747.8 L969.5 749.4 L965.0 752.0 L961.1 753.6 L958.3 758.7 L956.1 762.0 L953.6 764.4 L951.6 767.1 L948.2 768.4 L944.8 769.6 L940.9 769.4 L937.0 769.3 L933.6 772.7 L928.0 771.6 L926.9 776.1 L922.4 778.3 L917.9 782.8 L914.6 785.0 L916.6 790.3 L913.1 791.3 L909.5 792.3 L912.6 797.3 L910.5 802.4 L904.5 803.4 L904.5 809.4 L909.5 808.4 L908.4 812.4 L908.5 816.5 L909.5 822.6 L910.3 826.7 L911.6 830.6 L912.5 834.4 L914.6 837.7 L917.1 841.2 L913.9 842.2 L911.2 844.2 L906.7 842.7 L902.5 840.5 L899.2 840.0 L895.9 839.0 L892.5 839.2 L888.3 836.9 L883.8 835.5 L879.8 834.1 L876.2 831.8 L873.9 827.6 L872.5 823.0 L870.5 819.3 L868.8 815.5 L867.7 812.2 L867.5 808.9 L867.5 805.5 L865.3 802.5 L864.4 798.7 L862.5 795.5 L860.3 791.9 L858.0 788.5 L855.0 785.5 L852.5 782.4 L851.1 778.7 L848.8 775.5 L847.3 771.7 L844.9 768.2 L843.8 764.2 L842.6 760.7 L841.0 757.3 L838.8 754.2 L836.0 752.0 L834.2 748.8 L831.2 746.8 L828.0 744.4 L825.0 741.8 L817.5 741.8 L813.1 741.1 L808.8 740.5 L805.4 741.1 L802.5 743.0 L798.8 748.0 L797.0 751.6 L796.7 755.7 L795.0 759.2 L791.9 761.6 L788.8 763.8 L785.8 761.8 L782.8 760.1 L780.0 758.0 L776.0 755.9 L772.5 753.0 L769.0 750.7 L766.0 747.7 L762.5 745.5 L760.0 742.7 L758.8 739.2 L757.6 734.9 L756.2 730.5 L754.9 727.2 L753.1 724.1 L752.5 720.5 L748.6 718.2 L745.0 715.5 L742.6 712.9 L740.0 710.5 L737.5 708.0 L734.1 705.5 L732.2 701.7 L728.8 699.2 L727.0 696.5 L725.1 693.8 L722.5 691.8 L718.0 690.0 L684.3 689.7 L684.3 701.6 L624.1 701.6 L545.3 671.0 L544.9 667.5 L547.8 663.9 L496.1 668.9 L494.0 664.6 L493.0 661.1 L493.3 657.4 L491.1 651.7 L488.3 649.4 L486.1 646.7 L482.8 644.7 L480.3 641.6 L477.7 639.2 L474.6 637.3 L469.6 635.9 L467.4 630.2 L461.7 629.5 L458.0 629.1 L454.5 628.0 L451.6 623.7 L448.4 622.0 L445.9 619.4 L441.6 619.2 L437.3 618.7 L426.5 618.7 L422.2 615.1 L423.2 611.2 L423.0 607.2 L422.7 603.5 L421.5 600.0 L419.4 597.4 L417.9 594.3 L414.7 592.6 L412.2 590.0 L411.2 587.5 L409.5 584.6 L407.0 582.4 L404.9 579.8 L402.5 577.5 L399.5 574.5 L397.0 571.2 L395.0 567.5 L396.5 563.8 L397.5 560.0 L396.8 556.3 L396.2 552.5 L392.6 551.4 L389.9 548.6 L386.2 547.5 L385.6 544.1 L385.0 540.7 L383.8 537.5 L383.8 525.0 L380.3 524.8 L377.2 522.8 L373.8 522.5 L371.3 518.4 L370.0 513.8 L367.9 510.5 L364.9 508.0 L362.5 505.0 L360.2 501.8 L358.4 498.3 L356.2 495.0 L356.5 491.6 L355.1 488.4 L355.0 485.0 L354.0 481.7 L354.2 478.3 L353.8 475.0 L350.6 472.8 L347.5 470.4 L345.0 467.5 L343.3 463.3 L342.5 458.8 L343.1 455.1 L344.6 451.7 L346.0 448.3 L347.5 445.0 L347.0 419.5 L343.8 414.5 L343.8 407.0 L342.4 403.8 L342.0 400.2 L340.5 397.0 L341.3 393.6 L342.7 390.3 L343.8 387.0 L344.2 383.1 L345.4 379.4 L345.9 375.6 L347.5 372.0 L347.6 368.2 L347.8 364.4 L349.3 360.8 L349.5 357.0 L350.0 353.3 L349.9 349.4 L350.8 345.7 L351.2 342.0 L352.5 338.4 L351.9 334.4 L353.6 330.8 L353.8 327.0 L353.8 317.0 L352.2 314.1 L350.9 311.2 L349.5 308.2 L351.3 305.9 L351.5 302.2 L350.5 298.5 L350.4 294.8 L350.0 291.0 L349.9 287.8 L349.2 284.6 L348.2 280.1 L346.0 276.1 L344.2 271.9 L342.8 267.6 L340.2 263.6 L336.9 260.1 L336.4 255.6 L335.3 251.1 L340.6 252.2 L344.5 253.8 L348.5 254.9 L352.4 256.4 L357.2 256.5 L361.9 256.9 L365.6 256.8 L369.1 257.5 L372.6 258.5 L377.9 261.7 L381.5 260.3 L385.4 260.1 L386.5 256.5 L387.0 252.7 L385.4 249.3 L384.0 245.8 L383.2 242.0 L377.4 239.9 L376.9 235.6Z"/>
<path fill="none" stroke="#000" stroke-width="3.9" d="M349.5 308.2 L360.0 308.2 L364.3 309.2 L368.8 309.5 L371.1 311.7 L373.7 313.7 L376.2 315.8 L376.4 319.6 L377.5 323.2 L380.8 324.2 L384.2 324.7 L387.5 325.8 L391.9 324.4 L396.2 322.8 L399.7 323.2 L403.1 322.5 L406.6 322.9 L410.0 323.2 L413.6 322.0 L417.4 321.6 L421.1 320.8 L425.0 320.8 L428.7 319.7 L432.5 319.7 L436.4 319.5 L440.0 318.2 L443.7 317.4 L447.5 317.1 L451.4 317.0 L455.0 315.8 L458.3 315.0 L461.6 314.9 L465.0 315.8 L468.4 315.8 L471.7 315.9 L475.0 315.0 L478.3 315.1 L481.6 315.5 L484.8 314.3 L488.1 315.0 L491.4 315.3 L494.7 315.0 L498.0 314.5 M498.0 235.7 L498.0 305.8 L501.2 309.5 L500.0 314.5 M500.0 314.5 L502.6 317.0 L505.4 319.2 L508.8 320.8 L510.0 324.5 L508.4 327.9 L506.3 331.0 L505.0 334.5 L503.5 337.7 L502.4 341.1 L501.2 344.5 L499.2 348.5 L496.2 352.0 L495.3 355.2 L493.8 358.2 L497.5 360.7 L501.2 363.2 L499.9 367.6 L498.8 372.0 L499.2 375.4 L498.7 378.7 L498.0 382.0 L498.0 420.0 M347.0 420.0 L624.5 420.2 M435.9 420.2 L435.9 499.3 L547.5 602.5 M561.5 420.2 L561.5 552.1 L561.5 555.7 L561.2 559.3 L561.4 562.9 L562.5 566.5 L561.6 570.1 L562.0 573.8 L559.2 575.7 L556.2 577.5 L552.4 576.6 L548.8 575.0 L548.0 578.3 L546.2 581.2 L547.0 585.2 L548.4 588.9 L550.0 592.5 L549.1 595.8 L549.1 599.3 L548.0 602.5 M548.0 602.5 L548.7 598.4 L548.9 594.2 L549.2 590.0 L549.5 594.4 L550.6 598.6 L549.3 601.5 L547.8 604.3 L548.8 607.4 L550.6 610.1 L553.2 613.4 L554.9 617.3 L557.0 620.8 L560.0 623.7 L556.7 625.4 L554.2 628.0 L550.6 633.0 L550.1 636.6 L549.9 640.2 L548.1 643.4 L546.3 646.7 L547.2 650.6 L547.1 654.6 L552.1 657.4 L552.1 661.7 L547.8 664.6 L544.9 667.5 M519.1 235.7 L519.1 262.0 L521.2 265.4 L524.0 268.2 L524.4 272.2 L526.2 275.8 L530.0 278.2 L533.8 280.8 L535.5 283.5 L537.7 285.9 L540.0 288.2 L542.0 290.8 L544.6 292.9 L546.2 295.8 L550.7 296.0 L555.0 297.0 L554.7 300.3 L554.1 303.7 L553.8 307.0 L554.0 310.4 L553.3 313.7 L552.5 317.0 L550.7 320.6 L550.0 324.5 L555.0 328.2 L558.2 326.5 L561.2 324.6 L563.8 322.0 L566.0 325.5 L567.5 329.5 L569.4 333.2 L571.2 337.0 L573.8 339.1 L575.7 341.8 L577.5 344.5 L579.3 348.3 L581.2 352.0 L584.3 354.0 L586.2 357.0 L590.7 355.2 L595.0 353.2 L598.4 353.7 L601.7 353.2 L605.0 352.0 L608.3 352.1 L611.7 352.3 L615.0 352.0 L617.5 347.0 L619.6 349.9 L622.5 352.0 L624.5 352.5 M624.5 341.0 L624.5 446.6 M624.5 341.0 L772.0 341.0 M772.0 235.7 L772.0 446.6 M624.5 446.6 L814.1 446.6 M666.6 446.6 L666.6 701.6 M561.5 552.1 L970.7 552.1 M814.1 446.6 L814.1 552.1 M814.1 472.9 L956.1 472.9 M772.0 316.3 L929.8 316.3 M772.0 393.8 L887.5 393.2 L890.9 394.6 L893.5 397.5 L897.1 398.6 L900.0 400.8 L903.3 400.2 L906.4 399.3 L909.6 398.6 L912.5 397.0 L916.1 398.7 L919.8 400.0 L923.5 401.4 L927.5 402.0 M915.0 235.0 L916.2 238.9 L917.4 242.9 L917.5 247.0 L918.5 250.3 L919.0 253.6 L918.7 257.1 L920.3 260.3 L921.1 263.6 L921.2 267.0 L922.4 270.4 L921.8 274.1 L923.4 277.4 L922.7 281.1 L923.8 284.5 L924.8 287.8 L924.6 291.2 L925.5 294.5 L927.0 297.7 L927.2 301.1 L927.5 304.5 L927.2 308.3 L928.9 311.9 L928.8 315.8 L927.2 318.7 L925.4 321.6 L923.8 324.5 L925.8 327.1 L928.3 329.2 L930.0 332.0 L932.5 333.2 L932.5 379.5 L928.8 382.0 L929.5 385.4 L930.3 388.7 L931.2 392.0 L930.0 395.3 L928.7 398.6 L927.5 402.0 M927.5 402.0 L929.3 405.2 L931.0 408.4 L933.1 411.4 L935.0 414.5 L936.8 418.1 L937.7 421.9 L939.3 425.6 L940.0 429.5 L940.7 433.4 L942.1 437.2 L942.2 441.3 L943.8 445.0 L944.1 448.8 L944.2 452.5 L945.0 456.2 L946.9 459.1 L948.2 462.1 L950.0 465.0 L952.0 469.1 L955.0 472.5 L958.8 474.2 L962.5 476.2 L965.0 478.8 L962.1 481.5 L960.0 485.0 L962.0 488.6 L965.0 491.2 L967.9 492.9 L970.5 495.0 M932.5 380.6 L1041.5 380.6 M945.0 456.8 L1035.0 456.2 L1040.0 455.0 L1042.8 452.8 L1045.0 450.0 L1048.8 445.0 M970.5 495.0 L970.5 552.0 L971.2 565.0 L972.5 577.5 L974.5 595.0 L974.5 640.0 L982.5 641.2 L983.0 658.0 M971.2 565.5 L1063.8 565.5 L1067.5 568.8 L1063.8 575.0 L1060.0 577.5 L1072.5 577.5 M793.9 552.1 L793.9 565.7 L857.3 565.7 L857.3 616.4 M857.5 615.0 L861.5 617.2 L865.0 620.0 L868.7 620.8 L872.5 621.2 L876.3 623.7 L880.0 626.2 L883.5 626.5 L886.8 627.5 L890.0 628.8 L893.0 631.0 L896.5 632.4 L900.0 633.8 L903.8 633.7 L907.5 632.5 L910.5 634.8 L914.5 635.2 L917.5 637.5 L921.0 637.4 L924.0 635.2 L927.5 635.0 L931.6 636.3 L935.0 638.8 L938.4 637.7 L940.9 635.0 L944.1 633.5 L947.5 632.5 L950.8 631.6 L954.2 632.3 L957.5 631.2 L961.1 633.9 L965.0 636.2 L967.8 638.6 L971.4 639.5 L974.5 641.2 M983.0 657.6 L1045.0 657.6 M792.9 565.7 L792.1 684.0 L717.8 684.0 L717.5 690.5 M717.5 690.5 L684.3 689.7 M1021.2 295.4 L1019.5 299.3 L1019.5 312.8 L1016.5 314.6 L1013.5 316.4 L1010.0 317.3 L1010.0 318.2 L1008.3 321.5 L1006.2 324.5 L1009.1 326.6 L1011.2 329.5 L1010.7 332.9 L1009.0 336.0 L1008.8 339.5 L1009.5 343.4 L1011.2 347.0 L1013.9 349.1 L1016.7 350.9 L1020.0 352.0 L1023.1 354.4 L1026.8 356.0 L1030.0 358.2 L1033.4 360.7 L1035.9 364.0 L1038.8 367.0 L1040.5 370.1 L1042.0 373.2 L1041.2 379.5 L1042.8 383.4 L1045.0 387.0 L1043.7 390.6 L1043.8 394.5 L1046.5 398.1 L1048.8 402.0 L1052.1 404.2 L1055.0 407.0 L1057.5 409.5 L1059.5 412.5 L1062.5 414.5 L1063.8 418.2 L1065.0 422.0 L1062.7 426.2 L1061.2 430.8 L1057.0 432.9 L1052.5 434.5 L1049.3 435.5 L1046.2 437.0 L1046.2 441.1 L1047.5 445.0 L1048.8 445.0 L1046.6 448.2 L1043.4 450.5 L1041.2 453.8 L1038.3 456.5 L1036.2 460.0 L1036.0 463.4 L1035.7 466.7 L1035.0 470.0 L1037.3 474.2 L1038.8 478.8 L1041.4 482.0 L1045.0 484.1 L1047.5 487.5 L1050.2 490.5 L1052.5 493.8 L1053.9 497.4 L1055.0 501.2 L1058.4 501.8 L1061.5 503.6 L1065.0 503.8 L1063.9 507.4 L1063.8 511.2 L1061.6 514.2 L1060.0 517.5 L1062.1 520.5 L1063.8 523.8 L1066.4 526.2 L1069.4 528.2 L1072.5 530.0 L1074.8 533.3 L1077.5 536.2 L1078.5 540.7 L1080.0 545.0 L1083.8 550.0 L1086.2 552.5 L1084.4 556.7 L1083.8 561.2 L1080.5 563.0 L1077.5 565.0 L1076.1 568.2 L1075.8 571.7 L1075.0 575.0 L1074.1 578.7 L1073.8 582.5 L1070.6 585.6 L1067.5 588.8 L1066.1 593.3 L1063.8 597.5 L1062.5 603.8 L1059.7 606.4 L1057.4 609.5 L1055.0 612.5 L1054.6 615.9 L1053.8 619.3 L1052.5 622.5 L1050.1 624.7 L1047.9 627.2 L1046.2 630.0 L1044.0 634.2 L1042.5 638.8 L1043.0 643.1 L1043.8 647.5 L1043.7 650.9 L1044.1 654.2 L1045.0 657.5 L1045.8 661.0 L1045.3 664.6 L1046.2 668.0 L1050.0 668.0 L1049.0 671.8 L1047.5 675.5 L1044.9 678.5 L1043.8 682.5 L1041.2 685.5 L1040.0 688.8 L1038.3 692.0 L1037.5 695.5 L1037.2 699.4 L1035.9 703.0 L1034.5 706.5 L1033.8 710.3 L1072.5 710.3 L1071.8 715.0 L1071.1 719.0 L1073.8 723.1 L1075.2 727.1 L1074.8 730.5 M1055.0 407.0 L1115.0 407.0 M1120.5 427.5 L1120.5 488.8 L1117.8 492.1 L1116.2 496.2 L1117.9 500.7 L1120.0 505.0 L1117.8 508.9 L1115.0 512.5 L1112.5 516.2 L1110.0 520.0 L1109.2 524.5 L1107.5 528.8 M1086.2 552.5 L1087.5 549.0 L1090.0 546.2 L1093.3 547.0 L1096.8 547.3 L1100.0 548.8 L1099.8 544.9 L1098.8 541.2 L1102.1 539.8 L1105.0 537.5 L1105.8 533.0 L1107.5 528.8 L1111.0 528.6 L1114.2 527.1 L1117.5 526.2 L1121.1 528.2 L1125.1 529.3 L1128.8 531.2 L1131.4 529.1 L1134.4 527.7 L1137.5 526.2 L1140.5 523.0 L1143.8 520.0 L1146.9 521.3 L1149.4 523.6 L1152.5 525.0 L1154.4 522.2 L1155.8 519.1 L1158.1 516.5 L1160.0 513.8 L1162.0 509.7 L1165.0 506.2 L1168.8 505.6 L1172.4 504.0 L1176.2 503.8 L1176.8 500.0 L1177.5 496.2 L1185.0 496.2 L1187.1 498.8 L1189.7 500.8 L1191.2 503.8 L1195.2 504.5 L1198.5 506.9 L1202.5 507.5 L1206.4 507.6 L1210.0 506.2 L1213.7 505.1 L1217.5 505.0 L1220.0 507.6 L1221.8 510.8 L1223.8 513.8 L1227.3 511.0 L1230.0 507.5 L1232.1 504.9 L1233.0 501.5 L1235.0 498.8 L1239.2 496.4 L1243.8 495.0 L1246.7 491.7 L1250.0 488.8 L1253.6 487.1 L1256.6 484.5 L1260.0 482.5 L1260.9 479.4 L1262.2 476.4 L1262.2 472.9 L1263.8 470.0 L1263.7 465.8 L1264.1 461.6 L1265.0 457.5 L1265.3 453.2 L1266.0 449.0 L1267.5 445.0 M1137.5 426.0 L1177.5 426.5 L1207.5 425.8 M1177.5 426.5 L1177.5 496.2 M1268.8 421.2 L1267.5 479.5 M1283.7 414.0 L1283.7 420.1 L1376.2 420.1 M1059.3 298.2 L1062.7 301.6 L1066.1 306.1 L1069.3 306.6 L1072.4 307.8 L1075.7 307.9 L1078.9 308.8 L1082.2 309.0 L1085.3 310.2 L1088.5 311.1 L1092.2 311.7 L1095.7 312.9 L1099.2 314.3 L1102.6 315.8 L1106.4 316.1 L1105.1 315.5 L1108.2 317.4 L1110.5 320.2 L1113.8 322.2 L1113.2 326.9 L1111.1 330.9 L1115.9 332.3 L1116.5 337.7 L1117.9 340.4 M1077.5 565.0 L1109.0 565.0 L1109.0 561.6 L1201.0 562.6 L1242.0 562.8 L1275.0 564.0 L1366.5 563.9 M1062.5 604.8 L1210.0 604.8 M1107.5 604.8 L1101.2 668.0 L1101.2 668.0 L1100.5 725.5 M1160.0 604.8 L1167.5 645.0 L1167.6 648.4 L1167.9 651.7 L1169.0 654.9 L1170.0 658.1 L1169.8 661.5 L1170.9 664.7 L1171.2 668.0 L1172.5 668.0 L1172.9 671.4 L1174.4 674.6 L1175.0 678.0 L1173.2 681.3 L1171.3 684.5 L1170.0 688.0 L1171.5 692.0 L1171.9 696.3 L1172.5 700.5 L1172.5 710.5 L1173.8 716.8 L1232.5 721.0 L1233.8 726.8 L1236.2 724.2 L1236.7 719.9 L1237.5 715.5 L1240.9 715.6 L1244.1 717.0 L1247.5 716.8 M1172.4 710.1 L1117.4 710.1 L1117.4 713.5 L1120.8 716.8 L1123.0 721.3 L1121.0 725.6 M1223.8 513.8 L1223.8 517.1 L1225.3 520.3 L1225.0 523.8 L1226.4 526.8 L1229.0 529.2 L1230.0 532.5 L1232.7 536.1 L1236.2 538.8 M1236.2 538.8 L1233.6 541.2 L1231.0 543.7 L1227.9 545.4 L1225.0 547.5 L1222.8 550.1 L1220.2 552.1 L1217.1 553.6 L1215.0 556.2 L1211.3 557.3 L1207.8 559.0 L1204.2 560.4 L1201.0 562.6 M1236.2 538.8 L1238.9 540.8 L1240.2 543.9 L1242.5 546.2 L1250.0 546.2 L1253.2 544.7 L1256.7 543.7 L1260.0 542.5 L1263.3 541.6 L1266.7 540.9 L1270.0 540.0 L1271.2 536.9 L1272.5 533.8 L1274.1 530.8 L1276.7 528.4 L1278.3 525.5 L1280.0 522.5 L1282.0 518.9 L1283.7 515.2 L1285.0 511.2 L1288.7 512.3 L1292.5 512.5 L1295.9 510.1 L1298.8 506.9 L1302.5 505.0 L1304.6 502.1 L1307.1 499.4 L1308.8 496.2 L1310.9 493.2 L1312.5 490.0 L1316.0 487.7 M1242.0 562.8 L1240.0 565.8 L1239.5 569.5 L1237.5 572.5 L1234.0 573.3 L1230.7 574.5 L1227.5 576.2 L1224.0 577.5 L1220.8 579.6 L1217.5 581.2 L1214.3 583.1 L1211.3 585.1 L1208.5 587.5 L1205.0 588.8 L1201.8 589.8 L1198.5 590.7 L1195.6 592.5 L1192.5 593.8 L1191.1 597.6 L1188.8 600.9 L1187.5 604.8 M1210.0 604.8 L1208.2 607.5 L1207.5 610.8 L1210.8 616.1 L1214.2 617.9 L1217.9 618.8 L1219.7 622.1 L1221.8 625.2 L1223.3 628.7 L1226.0 631.4 L1227.7 634.9 L1230.5 637.6 L1232.4 641.0 L1235.0 643.8 L1237.6 646.6 L1239.7 649.3 L1242.1 651.7 L1244.8 653.8 L1247.3 657.0 L1248.4 661.0 L1249.4 664.5 L1250.2 668.1 L1253.8 671.7 L1253.8 678.9 L1257.4 682.8 M1208.0 610.0 L1217.5 603.0 L1227.5 598.8 L1256.2 600.0 L1262.5 608.8 L1285.0 608.8 L1308.8 633.0 M1267.5 479.1 L1367.9 479.1 M1288.1 479.1 L1288.1 493.8 L1291.2 491.2 L1294.7 489.1 L1297.9 486.6 L1301.3 484.5 L1304.2 481.8 L1307.3 484.0 L1310.9 485.1 L1314.8 487.7 L1319.0 489.7 L1321.3 492.8 L1324.5 495.0 L1326.9 491.7 L1324.5 489.1 L1322.1 486.5 L1320.0 483.6 L1317.0 481.9 M1376.2 419.5 L1380.0 422.0 L1381.3 425.5 L1383.8 428.2 L1384.5 431.6 L1386.2 434.5 L1390.0 437.0 L1385.8 440.0 L1383.1 443.6 L1380.4 447.2 L1380.3 451.7 L1379.5 456.1 L1384.0 459.7 L1386.4 462.2 L1387.9 465.4 L1390.3 467.8 L1386.9 469.1 L1384.0 471.4 L1380.5 474.0 L1374.5 476.1 L1369.4 477.6 L1367.6 480.1 L1367.6 512.9 L1381.0 512.9 M1391.2 438.6 L1408.2 446.3 M1417.5 341.0 L1418.8 354.5 L1416.2 364.5 L1417.5 377.0 L1420.5 382.0 L1421.2 401.0 L1416.2 419.5 L1414.2 428.4 L1413.8 441.0 L1410.6 444.6 M1456.2 341.0 L1454.9 344.6 L1453.9 348.2 L1453.8 352.0 L1450.2 354.7 L1447.5 358.2 L1447.2 361.8 L1445.2 365.0 L1444.6 368.5 L1443.8 372.0 L1442.4 375.0 L1441.3 378.1 L1441.5 381.6 L1440.0 384.5 L1439.9 387.9 L1437.9 391.0 L1437.6 394.4 L1436.4 397.6 L1436.2 401.0 M1420.0 401.2 L1461.7 401.2 L1465.3 398.2 L1469.8 396.3 L1472.5 396.6 M1465.9 332.5 L1466.7 346.6 L1467.5 359.2 L1467.9 374.9 L1468.6 384.3 L1468.9 380.0 L1468.9 383.6 L1472.5 387.2 L1473.4 391.7 L1473.0 396.1 M1416.5 419.0 L1451.9 419.0 L1460.9 418.6 L1461.7 423.0 L1463.5 426.6 L1466.2 428.9 M1451.9 419.0 L1451.9 435.6 M987.0 740.6 L989.7 735.2 L989.7 731.8 L989.0 728.5 L989.6 725.1 L989.7 721.7 L989.5 718.4 L989.0 715.0 L991.0 712.0 L992.3 708.7 L993.8 705.5 L992.6 702.4 L992.1 699.2 L991.3 696.0 L990.0 693.0 L987.5 689.9 L985.6 686.5 L983.8 683.0 M983.8 683.0 L982.9 683.9 L982.9 657.6"/>
<path fill="none" stroke="#000" stroke-width="3.9" d="M1063.7 725.8 L1059.0 729.8 L1058.3 733.2 L1062.4 734.5 L1067.8 734.5 L1069.8 731.8 L1067.8 728.5 L1063.7 725.8 M962.5 750.5 L965.0 743.0 L968.8 740.5 L970.0 745.5 L966.2 749.2 M926.9 776.1 L926.3 770.4 L930.3 768.8 L937.0 769.3 L933.6 772.7 M1458.2 433.8 L1460.0 428.4 L1461.7 426.6 L1463.5 430.2 L1464.4 426.6 L1466.2 428.9 M1471.2 437.4 L1473.4 435.6 L1477.9 434.7 L1480.1 436.1 L1478.8 437.8 L1474.3 438.3 L1471.6 438.7 M1484.2 438.3 L1487.8 436.5 L1490.9 438.3 L1490.0 441.0 L1486.0 441.0 L1484.6 439.2 M1451.0 444.6 L1443.8 445.5 L1438.4 446.8 L1433.0 448.2 M1162.3 336.7 L1164.6 339.4 L1165.0 343.7 L1162.6 346.4 L1160.3 345.1 L1160.6 340.4 L1162.6 341.7 L1162.6 344.4 M1326.9 491.7 L1332.1 493.4 L1340.2 499.3 L1343.7 502.3 L1339.2 506.3 L1335.1 510.4 L1334.1 514.4 L1337.2 516.4 L1341.2 513.4 L1346.2 517.4 L1351.3 522.5 L1354.3 526.5 M1365.4 483.1 L1361.4 485.1 L1357.3 488.2 L1352.3 491.2 L1349.3 492.7 L1350.3 500.3 L1349.8 506.3 L1348.8 513.4 L1351.3 517.4 L1355.3 522.5 L1356.3 529.5 L1355.8 535.6 L1356.8 542.7 L1355.3 548.7 L1353.3 554.8 M1365.4 483.1 L1361.4 490.2 L1360.4 496.2 L1359.9 503.3 L1361.4 509.4 L1358.3 514.4 L1363.4 516.4 L1366.4 520.5 L1365.4 525.5 L1369.4 526.5 L1372.5 528.5 L1367.4 532.6 L1364.4 538.6 L1362.4 544.7 L1363.4 549.7 M1353.8 494.2 L1352.8 500.3 L1353.8 506.3 L1353.3 512.4 L1356.3 517.4 L1357.3 524.5 L1356.8 530.5 L1357.8 538.6 L1356.3 544.7 L1358.3 550.7 L1354.3 552.7 M1356.8 494.2 L1357.8 500.3 L1357.3 506.3 L1358.8 511.4 L1361.4 514.4 L1364.4 518.4 M1342.2 524.5 L1347.2 529.5 L1352.3 534.6 L1355.3 538.6 M1345.2 538.6 L1350.3 542.7 L1354.3 546.7 M1341.2 545.7 L1347.2 549.7 L1352.3 553.8 L1354.8 555.8 L1358.3 553.8 M1369.4 477.6 L1371.5 481.1 L1372.0 486.1 L1374.5 491.2 L1378.5 496.2 L1381.6 501.3 L1383.1 506.3 L1383.6 512.4 M1374.5 476.1 L1373.5 482.1 L1376.5 488.2 L1382.6 492.7 L1388.6 495.7 L1386.6 500.3 M1348.0 551.0 L1352.6 554.5 L1358.6 554.0 L1362.7 552.0 M1347.5 569.2 L1347.0 574.2 L1346.5 579.3 L1351.6 579.3 L1355.6 578.3 L1360.6 575.2 L1362.7 571.7 L1359.1 570.7 L1355.6 573.7 M1360.6 577.2 L1364.7 579.3 L1365.9 584.3 L1361.1 587.5 L1359.6 584.3 L1362.7 582.3 M1368.2 585.3 L1364.7 591.4 L1359.6 595.6 L1355.6 593.6 M1341.0 591.4 L1346.5 592.6 L1351.6 590.4 L1354.6 593.6 L1350.5 596.6 L1346.5 594.4 M1339.4 601.7 L1344.5 604.7 L1349.5 602.7 L1354.6 604.7 L1357.6 606.7 L1354.6 610.5 L1349.5 611.8 L1346.5 608.7 L1342.5 606.5 M1332.4 610.5 L1333.4 616.6 M1338.4 610.5 L1339.4 614.1"/>
<path fill="#000" stroke="#000" stroke-width="1" d="M376.3 235.1 L381.1 236.7 L381.1 240.4 L385.4 241.0 L386.4 245.2 L385.9 251.6 L388.0 253.8 L388.6 258.0 L391.8 260.1 L391.2 263.3 L388.6 266.0 L389.1 270.8 L388.0 275.1 L389.1 278.2 L387.5 282.0 L383.2 284.6 L380.1 287.3 L375.8 288.9 L372.1 287.3 L369.9 283.0 L370.5 279.3 L368.3 278.2 L369.9 273.5 L372.6 269.7 L374.7 266.5 L376.9 263.9 L372.6 261.2 L371.5 259.1 L374.2 257.5 L376.9 255.9 L378.5 252.2 L374.7 251.6 L371.0 250.6 L368.3 247.9 L368.3 244.7 L371.0 242.6 L373.7 241.0 L376.9 241.0 L377.4 237.8Z M349.2 287.3 L357.7 288.4 L355.6 290.5 L351.8 291.6 L356.1 294.2 L356.4 299.5 L352.9 305.9 L350.8 305.9 L349.7 293.2Z M382.0 521.2 L391.2 519.5 L390.0 528.8 L395.5 536.2 L395.5 541.2 L390.0 539.5 L385.5 533.8 L383.0 528.8Z M1217.5 790.2 L1221.5 786.8 L1227.6 788.2 L1229.6 792.9 L1226.9 797.6 L1222.2 798.9 L1218.2 795.6Z M1228.5 816.4 L1233.6 814.1 L1237.0 817.1 L1236.1 821.8 L1230.3 821.8Z M1252.5 859.5 L1256.5 856.8 L1261.2 858.8 L1261.2 864.2 L1256.5 866.6 L1252.8 864.2Z M1383.6 496.2 L1388.6 494.7 L1391.1 497.2 L1389.6 501.3 L1385.6 502.5 L1383.4 500.3Z M1130.0 315.8 L1135.4 316.8 L1142.1 316.1 L1144.8 317.8 L1142.1 322.2 L1138.7 323.9 L1134.7 322.9 L1131.3 320.2Z M1069.1 730.5 L1073.1 729.5 L1077.8 731.1 L1079.2 735.2 L1077.2 739.2 L1073.1 740.2 L1070.4 737.2 L1068.4 733.8Z"/>
<path fill="#0000cd" stroke="none" d="M379.5 245.2 L382.2 244.7 L381.7 247.4 L379.2 247.6Z M383.8 255.9 L385.4 255.9 L385.2 258.5 L383.6 258.2Z M376.3 273.5 L379.0 274.5 L380.1 276.7 L377.4 276.1Z"/>
</g>
<rect x="1596" y="546" width="26" height="25" fill="#4d4d4d"/>
<rect x="1596" y="570.8" width="26" height="26.4" fill="#002cdb"/>
<rect x="1596" y="597" width="26" height="25" fill="#a62314"/>
</svg>
<div class="t" id="ti">Honeydew moth: Number of generations w/ climate stress exclusions<br>02/10/2026</div>
<div class="t" id="su">Maps and modeling 02/10/2026 by Oregon State University IPPC USPEST.ORG and<br>USDA-APHIS-PPQ; climate data from OSU PRISM Climate Group</div>
<div class="t" id="lt">No. of<br>generations</div>
<div class="t ll" style="top:547.2px">excl.-severe</div>
<div class="t ll" style="top:572.5px">0 gens.</div>
<div class="t ll" style="top:598.1px">1 gens.</div>
</body></html>
